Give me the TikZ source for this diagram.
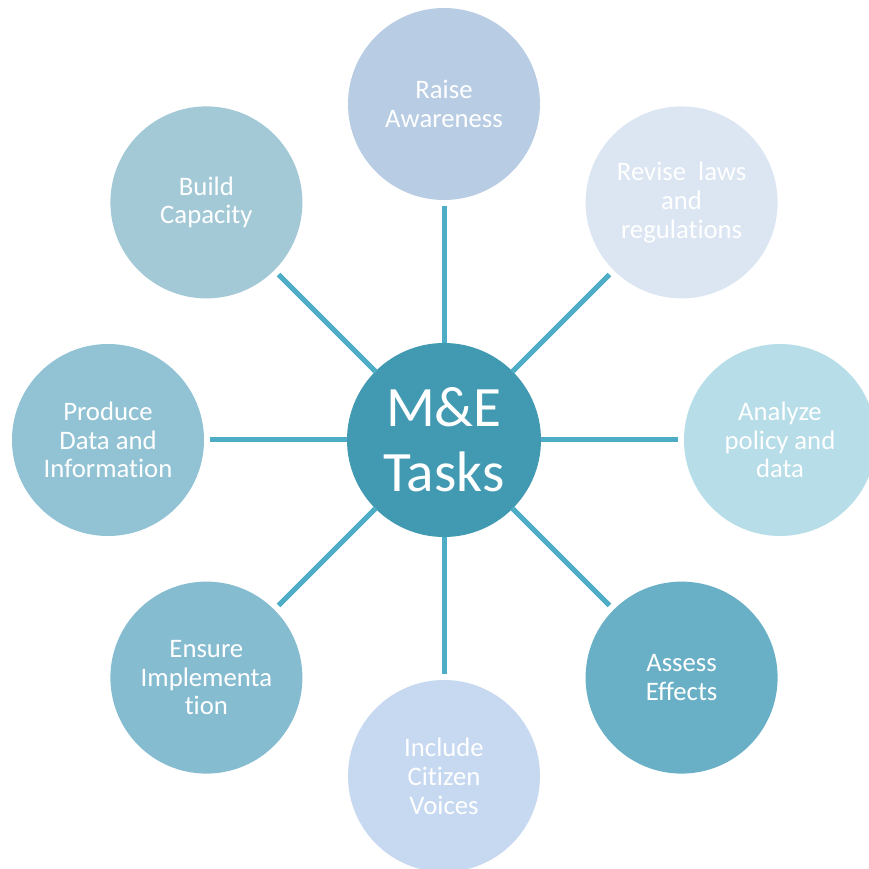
\documentclass[tikz,border=0pt]{standalone}
\usepackage{fontspec}
\setmainfont[Ligatures={NoCommon}]{Carlito}
\usetikzlibrary{positioning}

\definecolor{mneteal}{HTML}{429AB2}
\definecolor{spokeblue}{HTML}{4DACC6}
\definecolor{raisefill}{HTML}{B8CCE4}
\definecolor{revisefill}{HTML}{DCE6F2}
\definecolor{analyzefill}{HTML}{B6DDE8}
\definecolor{assessfill}{HTML}{69B0C6}
\definecolor{includefill}{HTML}{C6D9F1}
\definecolor{ensurefill}{HTML}{86BCD0}
\definecolor{producefill}{HTML}{92C3D4}
\definecolor{buildfill}{HTML}{A3C9D7}

\begin{document}
\begin{tikzpicture}[
    on grid,
    task/.style={circle, minimum size=3.84cm, inner sep=0pt, outer sep=0pt,
        text=white, align=center, font=\fontsize{15.2}{16.4}\selectfont},
    spoke/.style={draw=spokeblue, line width=0.1cm, shorten >=0.12cm}
]
    \useasboundingbox (-8.88,-8.58) rectangle (8.5,8.8);
    %% centre
    \node[circle, fill=mneteal, minimum size=3.88cm, inner sep=0pt, outer sep=0pt,
        text=white, align=center, font=\fontsize{32.5}{37}\selectfont] (mne) at (0,0) {M\&E\\Tasks};
    %% tasks round it
    \node[task, fill=raisefill, above=6.72 of mne] (raise) {Raise\\Awareness};
    \node[task, fill=revisefill, above right=4.752 and 4.752 of mne] (revise) {Revise\ \ laws\\and\\regulations};
    \node[task, fill=analyzefill, right=6.72 of mne] (analyze) {Analyze\\policy and\\data};
    \node[task, fill=assessfill, below right=4.752 and 4.752 of mne] (assess) {Assess\\Effects};
    \node[task, fill=includefill, below=6.72 of mne] (include) {Include\\Citizen\\Voices};
    \node[task, fill=ensurefill, below left=4.752 and 4.752 of mne] (ensure) {Ensure\\Implementa\\tion};
    \node[task, fill=producefill, left=6.72 of mne] (produce) {Produce\\Data and\\Information};
    \node[task, fill=buildfill, above left=4.752 and 4.752 of mne] (build) {Build\\Capacity};
    % spokes
    \foreach \t in {raise,revise,analyze,assess,include,ensure,produce,build}
        \draw[spoke] (mne) -- (\t);
\end{tikzpicture}
\end{document}
